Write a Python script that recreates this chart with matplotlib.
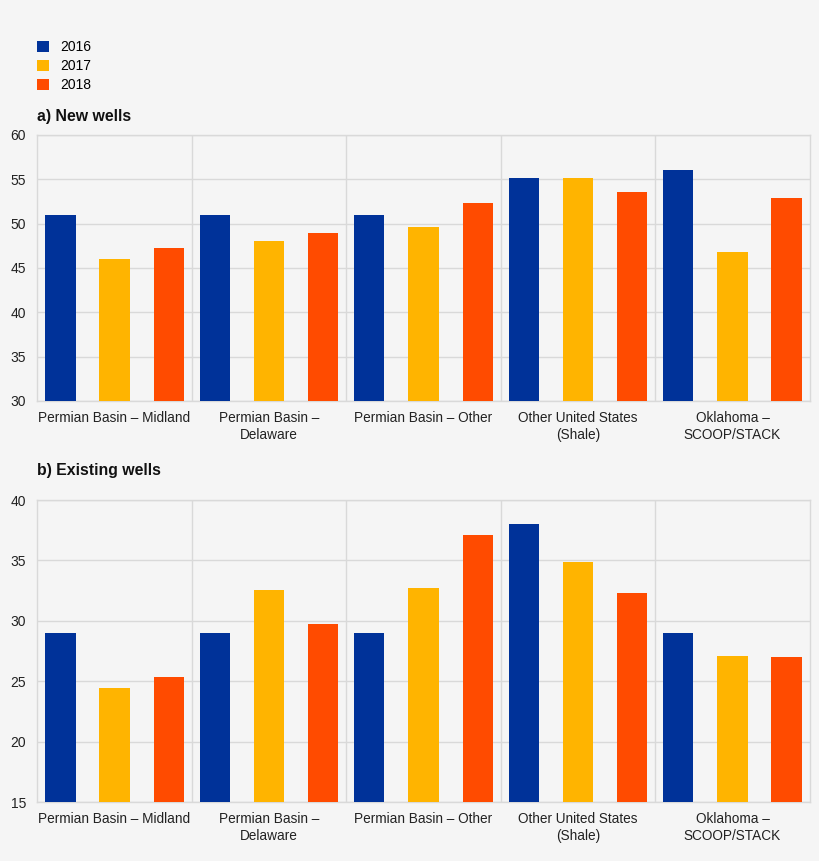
import matplotlib
matplotlib.use("Agg")
import matplotlib.pyplot as plt
from matplotlib.patches import Patch
import numpy as np

plt.rcParams['font.family'] = ['Liberation Sans', 'DejaVu Sans']

categories = ["Permian Basin – Midland", "Permian Basin –\nDelaware", "Permian Basin – Other",
              "Other United States\n(Shale)", "Oklahoma –\nSCOOP/STACK"]
years = ["2016", "2017", "2018"]
new_2016 = [51.0, 51.0, 51.0, 55.2, 56.0]
new_2017 = [46.0, 48.0, 49.6, 55.2, 46.8]
new_2018 = [47.3, 48.9, 52.3, 53.6, 52.9]
exist_2016 = [29.0, 29.0, 29.0, 38.0, 29.0]
exist_2017 = [24.4, 32.55, 32.7, 34.9, 27.1]
exist_2018 = [25.35, 29.7, 37.1, 32.3, 27.0]

colors = ["#003299", "#FFB400", "#FF4B00"]
bg = "#F5F5F5"
gridc = "#D9D9D9"

W, H = 820, 861
fig = plt.figure(figsize=(W / 100, H / 100), dpi=100)
fig.patch.set_facecolor(bg)

def px_axes(x0, y0, x1, y1):
    return fig.add_axes([x0 / W, 1 - y1 / H, (x1 - x0) / W, (y1 - y0) / H])

def draw(ax, series, ylim, step):
    ax.set_facecolor(bg)
    x = np.arange(len(categories))
    offs = [-0.351, 0.0, 0.351]
    for s, o, c in zip(series, offs, colors):
        ax.bar(x + o, s, width=0.197, color=c, zorder=3)
    ax.set_xlim(-0.5, len(categories) - 0.5)
    ax.set_ylim(*ylim)
    ax.set_yticks(np.arange(ylim[0], ylim[1] + 0.1, step))
    ax.set_xticks(x)
    ax.set_xticklabels(categories, fontsize=9.8, color="#222222", linespacing=1.2)
    ax.set_xticks(np.arange(0.5, len(categories) - 0.5, 1), minor=True)
    ax.tick_params(axis='both', which='both', length=0)
    ax.tick_params(axis='y', labelsize=10, colors="#222222", pad=8)
    ax.tick_params(axis='x', pad=7.5)
    ax.grid(axis='y', which='major', color=gridc, linewidth=1, zorder=0)
    ax.grid(axis='x', which='minor', color=gridc, linewidth=1, zorder=0)
    ax.grid(axis='x', which='major', visible=False)
    for sp in ax.spines.values():
        sp.set_color(gridc)
        sp.set_linewidth(1)

ax1 = px_axes(37.3, 135, 809.7, 401)
draw(ax1, [new_2016, new_2017, new_2018], (30, 60), 5)
fig.text(37 / W, 1 - 116 / H, "a) New wells", fontsize=11.4, fontweight='bold', color="#111111",
         va='center', ha='left')

ax2 = px_axes(37.3, 500, 809.7, 802)
draw(ax2, [exist_2016, exist_2017, exist_2018], (15, 40), 5)
fig.text(37 / W, 1 - 471 / H, "b) Existing wells", fontsize=11.4, fontweight='bold', color="#111111",
         va='center', ha='left')

handles = [Patch(facecolor=c, edgecolor='none') for c in colors]
fig.legend(handles, years, loc='upper left', bbox_to_anchor=(37 / W, 1 - 40 / H),
           frameon=False, fontsize=10, handlelength=0.85, handleheight=0.85,
           handletextpad=0.85, labelspacing=0.37, borderpad=0, borderaxespad=0)

fig.savefig("out.png", dpi=100, facecolor=bg)
